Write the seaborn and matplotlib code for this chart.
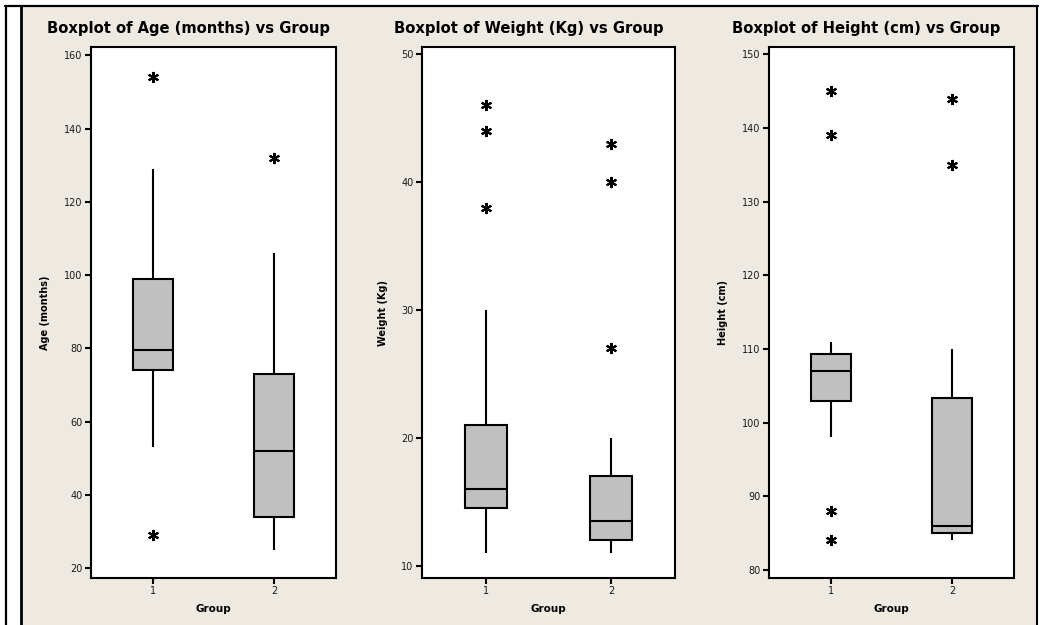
import matplotlib.pyplot as plt
import matplotlib.patches as mpatches
from matplotlib.lines import Line2D
import seaborn as sns
import pandas as pd

groups = ["1", "2"]

age_g1 = [29, 53, 74, 77, 79.5, 90, 99, 129, 154]
age_g2 = [25, 30, 34, 45, 52, 60, 73, 106, 132]

weight_g1 = [11, 12, 13, 14, 14.5, 15, 15.5, 16, 16, 17, 18, 20, 21, 30, 38, 44, 46]
weight_g2 = [11, 11, 11.5, 12, 12, 12.5, 13, 13, 13.5, 14, 15, 16, 17, 20, 27, 40, 43]

height_g1 = [84, 88, 98, 103, 105, 106, 107, 108, 109, 109.3, 111, 139, 145]
height_g2 = [84, 84.5, 85, 85, 85.5, 86, 86, 90, 97, 103.3, 110, 135, 144]

variables = ["Age (months)", "Weight (Kg)", "Height (cm)"]
titles = ["Boxplot of Age (months) vs Group",
          "Boxplot of Weight (Kg) vs Group",
          "Boxplot of Height (cm) vs Group"]
yticks = [list(range(20, 161, 20)), list(range(10, 51, 10)), list(range(80, 151, 10))]

sns.set_theme(style="white")
plt.rcParams['font.family'] = ['DejaVu Sans']

W, H = 1057, 625
fig = plt.figure(figsize=(W / 100, H / 100), dpi=100, facecolor='white')

# beige panel + the black frame lines
fig.add_artist(mpatches.Rectangle((22 / W, 0), (1036 - 22) / W, 1 - 7 / H,
                                  transform=fig.transFigure, facecolor='#EEEAE1',
                                  edgecolor='none', zorder=-10))
fig.add_artist(Line2D([5 / W, 1038 / W], [1 - 6 / H] * 2, color='black', lw=1.6))
fig.add_artist(Line2D([6 / W] * 2, [0, 1 - 6 / H], color='black', lw=1.6))
fig.add_artist(Line2D([21 / W] * 2, [0, 1 - 6 / H], color='black', lw=2))
fig.add_artist(Line2D([1037 / W] * 2, [0, 1 - 6 / H], color='black', lw=1.5))


def px(x0, y0, x1, y1):
    return [x0 / W, 1 - y1 / H, (x1 - x0) / W, (y1 - y0) / H]


panels = [
    (age_g1, age_g2, px(91, 47, 336, 578), (17.35, 162.3), 0.396, -0.167),
    (weight_g1, weight_g2, px(422, 47, 675, 578), (9.06, 50.55), 0.423, -0.134),
    (height_g1, height_g2, px(769, 47, 1014, 578), (78.9, 151.0), 0.396, -0.167),
]

for i, (g1, g2, rect, ylim, tx, lx) in enumerate(panels):
    col = variables[i]
    df = pd.DataFrame({"Group": [groups[0]] * len(g1) + [groups[1]] * len(g2),
                       col: g1 + g2})
    ax = fig.add_axes(rect)
    sns.boxplot(data=df, x="Group", y=col, order=groups, ax=ax,
                color="#C0C0C0", saturation=1, width=0.33,
                linecolor="black", linewidth=1.5, showcaps=False, fliersize=8,
                flierprops=dict(marker=(6, 2, 0), markersize=8,
                                markeredgecolor='black', markeredgewidth=1.5))
    ax.set_facecolor('white')
    ax.set_xlim(-0.51, 1.51)
    ax.set_ylim(*ylim)
    ax.set_yticks(yticks[i])
    for s in ax.spines.values():
        s.set_color('black')
        s.set_linewidth(1.5)
    ax.tick_params(bottom=True, left=True, direction='out', length=4, width=1.5,
                   labelsize=7, color='black', labelcolor='#1a1a1a', pad=2)
    ax.set_title(titles[i], fontsize=10.6, fontweight='bold', color='black',
                 x=tx, pad=10)
    ax.set_xlabel("Group", fontsize=7.5, fontweight='bold', color='black')
    ax.xaxis.set_label_coords(0.5, -0.049)
    ax.set_ylabel(col, fontsize=7, fontweight='bold', color='black')
    ax.yaxis.set_label_coords(lx, 0.5)

fig.savefig("out.png", dpi=100, facecolor=fig.get_facecolor())
